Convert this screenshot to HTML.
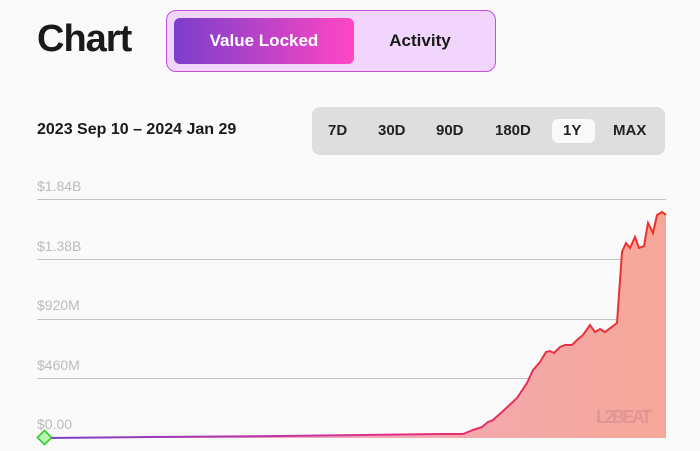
<!DOCTYPE html>
<html><head><meta charset="utf-8"><style>
body{margin:0;width:700px;height:451px;background:#fafafa;font-family:"Liberation Sans",sans-serif;overflow:hidden;position:relative}
.t{position:absolute;font-weight:bold;color:#1a1a1a}
</style></head><body>
<div class="t" style="left:37px;top:18px;font-size:38px;letter-spacing:-1px">Chart</div>
<div style="position:absolute;left:166px;top:10px;width:330px;height:62px;border-radius:10px;background:#f1d5fd;box-sizing:border-box;border:1px solid #c050e0"></div>
<div style="position:absolute;left:174px;top:18px;width:180px;height:46px;border-radius:6px;background:linear-gradient(90deg,#7b3fcc,#ff46c4)"></div>
<div class="t" style="left:174px;top:31px;width:180px;text-align:center;color:#fff;font-size:17px">Value Locked</div>
<div class="t" style="left:360px;top:31px;width:120px;text-align:center;font-size:17px">Activity</div>
<div class="t" style="left:37px;top:121px;font-size:16px">2023 Sep 10 – 2024 Jan 29</div>
<div style="position:absolute;left:312px;top:107px;width:353px;height:48px;border-radius:8px;background:#dedede"></div>
<div style="position:absolute;left:552px;top:119px;width:43px;height:24px;border-radius:6px;background:#fafafa"></div>
<div class="t" style="top:122px;left:0;font-size:15px;font-weight:bold;color:#222">
<span style="position:absolute;left:328px">7D</span><span style="position:absolute;left:378px">30D</span><span style="position:absolute;left:436px">90D</span><span style="position:absolute;left:495px">180D</span><span style="position:absolute;left:563px">1Y</span><span style="position:absolute;left:613px">MAX</span></div>
<svg width="700" height="451" style="position:absolute;left:0;top:0">
<defs>
<linearGradient id="f" x1="0" x2="1"><stop offset="0" stop-color="#f0a8d8"/><stop offset="1" stop-color="#f5a898"/></linearGradient>
<linearGradient id="l" gradientUnits="userSpaceOnUse" x1="45" y1="0" x2="666" y2="0"><stop offset="0" stop-color="#7b3fcc"/><stop offset="0.55" stop-color="#e0308a"/><stop offset="1" stop-color="#f03020"/></linearGradient>
</defs>
<g fill="#bbb" font-size="14">
<text x="37" y="191">$1.84B</text><text x="37" y="251">$1.38B</text><text x="37" y="310">$920M</text><text x="37" y="370">$460M</text><text x="37" y="429">$0.00</text></g>
<g stroke="#c4c4c4" stroke-width="1"><line x1="37" x2="666" y1="199.5" y2="199.5"/><line x1="37" x2="666" y1="259.5" y2="259.5"/><line x1="37" x2="666" y1="319.5" y2="319.5"/><line x1="37" x2="666" y1="378.5" y2="378.5"/><line x1="37" x2="666" y1="437.5" y2="437.5"/></g>
<polygon fill="url(#f)" points="45,438 150,437 280,436 440,434 463,434 473,430 482,427 488,422 493,420 502,412 517,398 527,383 533,370 540,362 546,352 550,351 554,353 560,347 565,345 572,345 577,340 583,335 590,325 595,332 600,329 605,332 617,323 622,252 626,243 630,248 635,237 639,248 644,246 648,223 653,233 657,215 662,212 666,215 666,438"/>
<polyline fill="none" stroke="url(#l)" stroke-width="2" points="45,438 150,437 280,436 440,434 463,434 473,430 482,427 488,422 493,420 502,412 517,398 527,383 533,370 540,362 546,352 550,351 554,353 560,347 565,345 572,345 577,340 583,335 590,325 595,332 600,329 605,332 617,323 622,252 626,243 630,248 635,237 639,248 644,246 648,223 653,233 657,215 662,212 666,215"/>
<text x="596" y="423" font-size="18" fill="#d88a96" opacity="0.6" font-weight="bold" textLength="56">L2BEAT</text>
<rect x="39.5" y="432.5" width="10" height="10" transform="rotate(45 44.5 437.5)" fill="#b8f5b0" stroke="#22cc22" stroke-width="1.5"/>
</svg>
</body></html>
